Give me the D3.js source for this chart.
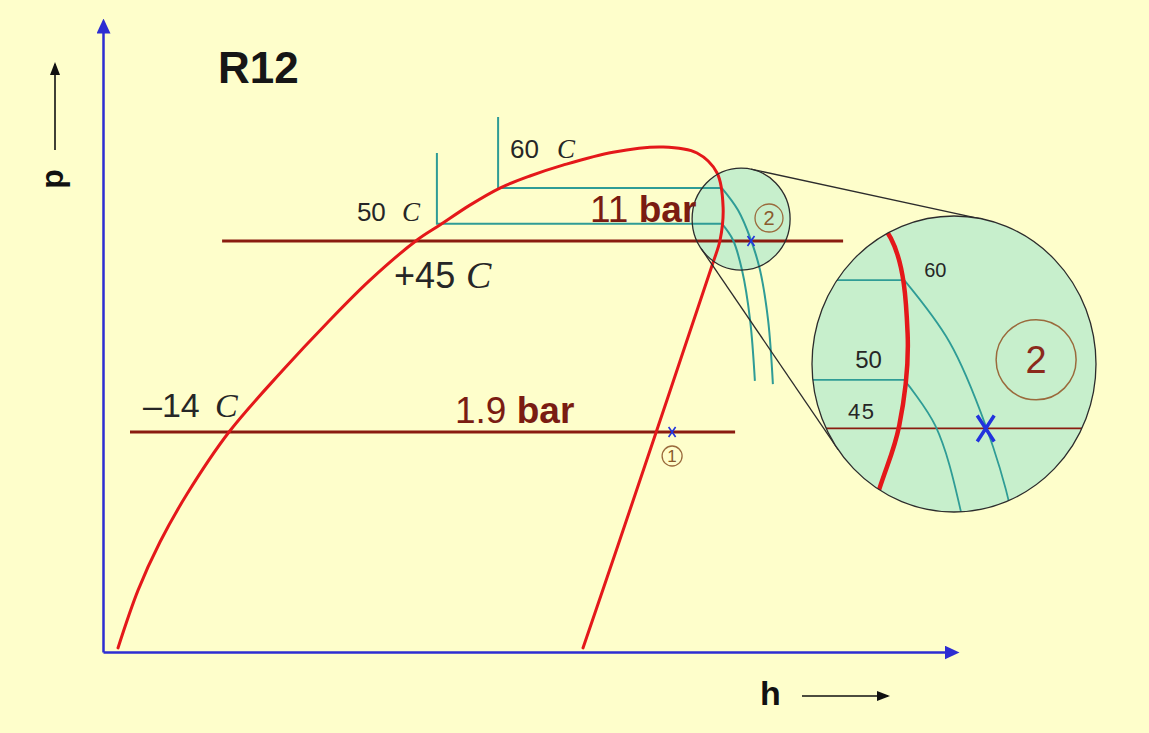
<!DOCTYPE html>
<html>
<head>
<meta charset="utf-8">
<script src="https://cdn.jsdelivr.net/npm/d3@7"></script>
<style>
  html, body { margin: 0; padding: 0; background: #FEFECB; }
  svg { display: block; }
</style>
</head>
<body>
<svg id="chart" width="1149" height="733"></svg>
<script>
// R12 refrigeration cycle on a schematic log p – h diagram
// h: specific enthalpy (kJ/kg, schematic), p: pressure (bar, log scale)

const title = "R12";

// Saturation dome: liquid line from bottom up to the critical region,
// then the vapour line back down.
const domeH = [155.0, 161.7, 169.0, 178.0, 192.0, 210.0, 224.7, 239.0, 254.7, 262.3, 272.3, 282.3, 292.3, 303.3, 320.0, 336.7,
               348.0, 354.7, 356.7, 355.7, 353.3, 345.7, 338.0, 330.7, 321.7, 310.0];
const domeP = [0.261, 0.444, 0.691, 1.074, 1.90, 3.36, 5.18, 7.68, 11.1, 12.74, 15.3, 17.9, 20.0, 22.1, 24.9, 26.1,
               24.7, 20.55, 15.03, 11.1, 8.99, 4.81, 2.55, 1.403, 0.672, 0.261];

// Evaporating / condensing pressures
const pressureLevels = [11, 1.9];
const pressureText = ["11", "1.9"];
const pressureFromH = [189.7, 159.0];
const pressureToH = [396.7, 360.7];
const satTempText = ["+45", "\u201314"];   // saturation temperature at each level
const satLiquidH = [254.7, 192.0];          // liquid line crossing of each level

// Isotherms 50 °C and 60 °C: liquid branch, two-phase plateau, superheated branch
const isoTemps = ["50", "60"];
const isoLiquidH = [261.3, 281.7];
const isoTopP = [24.7, 34.4];
const isoSatP = [12.9, 17.9];
const isoVapourH = [356.3, 356.3];
const iso50SuperH = [356.3, 360.0, 363.0, 365.7, 367.3];
const iso50SuperP = [12.9, 11.1, 8.42, 5.32, 3.04];
const iso60SuperH = [356.3, 361.7, 366.0, 369.0, 371.7, 373.3];
const iso60SuperP = [17.9, 14.6, 11.1, 8.42, 5.32, 2.95];

// Cycle state points: 1 = suction, 2 = discharge
const stateText = ["1", "2"];
const stateH = [339.7, 366.0];
const stateP = [1.9, 11];

// Magnifier lens centred near state 2
const lensH = 362.7, lensP = 13.46;
const magnification = 2.8;

// ---------------------------------------------------------------------------
const W = 1149, H = 733;
const svg = d3.select("#chart");
svg.append("rect").attr("width", W).attr("height", H).attr("fill", "#FEFECB");

const x = d3.scaleLinear().domain([150, 434]).range([103, 955]);
const y = d3.scaleLog().domain([0.2514, 82.4]).range([652, 22]);

const C = {
  axis: "#2d2dd2",
  dome: "#E4181A",
  pressure: "#8A1C10",
  iso: "#2F9C96",
  lensFill: "#C7EFCC",
  lensLine: "#2c2c2c",
  text: "#262626",
  pText: "#7A1C12",
  stateRing: "#9A6A3C",
  cross: "#2233DD"
};
const sans = "'Liberation Sans', Arial, sans-serif";
const serif = "'Liberation Serif', 'Times New Roman', serif";

const defs = svg.append("defs");
function arrowMarker(id, color, len, half, back) {
  defs.append("marker")
    .attr("id", id)
    .attr("markerUnits", "userSpaceOnUse")
    .attr("viewBox", `0 ${-half} ${len} ${2 * half}`)
    .attr("refX", len - back).attr("refY", 0)
    .attr("markerWidth", len).attr("markerHeight", 2 * half)
    .attr("orient", "auto")
    .append("path")
    .attr("d", `M0,${-half}L${len},0L0,${half}Z`)
    .attr("fill", color);
}
arrowMarker("axisArrow", C.axis, 15, 7, 4);
arrowMarker("labelArrow", "#111", 13, 5, 2);

// ---- axes (domain lines only, with arrow heads) ----
const xAxis = svg.append("g").attr("transform", `translate(0,${y.range()[0]})`)
  .call(d3.axisBottom(x).ticks(0).tickSizeOuter(0));
const yAxis = svg.append("g").attr("transform", `translate(${x.range()[0]},0)`)
  .call(d3.axisLeft(y).ticks(0).tickSizeOuter(0));
[xAxis, yAxis].forEach(g => {
  g.selectAll(".tick").remove();
  g.select(".domain")
    .attr("stroke", C.axis).attr("stroke-width", 2.5)
    .attr("marker-end", "url(#axisArrow)");
});

// axis names with their own arrows
svg.append("text").text("h")
  .attr("x", 760).attr("y", 705)
  .attr("font-family", sans).attr("font-weight", "bold").attr("font-size", 34).attr("fill", "#111");
svg.append("line").attr("x1", 802).attr("y1", 696).attr("x2", 888).attr("y2", 696)
  .attr("stroke", "#111").attr("stroke-width", 1.6).attr("marker-end", "url(#labelArrow)");
svg.append("text").text("p")
  .attr("transform", "translate(63,179) rotate(-90)")
  .attr("text-anchor", "middle")
  .attr("font-family", sans).attr("font-weight", "bold").attr("font-size", 32).attr("fill", "#111");
svg.append("line").attr("x1", 55).attr("y1", 150).attr("x2", 55).attr("y2", 64)
  .attr("stroke", "#111").attr("stroke-width", 1.6).attr("marker-end", "url(#labelArrow)");

svg.append("text").text(title)
  .attr("x", 218).attr("y", 83)
  .attr("font-family", sans).attr("font-weight", "bold").attr("font-size", 44).attr("fill", "#161616");

// ---- geometry helpers ----
const zip = (a, b) => a.map((v, i) => [v, b[i]]);
const smooth = (sx, sy) => d3.line().x(d => sx(d[0])).y(d => sy(d[1])).curve(d3.curveCatmullRom.alpha(0.5));
const straight = (sx, sy) => d3.line().x(d => sx(d[0])).y(d => sy(d[1]));

const domePts = zip(domeH, domeP);
const iso50Super = zip(iso50SuperH, iso50SuperP);
const iso60Super = zip(iso60SuperH, iso60SuperP);
const isoSuper = [iso50Super, iso60Super];

// lens geometry (small lens on the diagram, large lens as enlarged view)
const lens = { cx: x(lensH), cy: y(lensP), rx: 49, ry: 51 };
const big = { cx: 954, cy: 364, rx: 142, ry: 148, focusX: 958, focusY: 367 };
const xi = h => big.focusX + magnification * (x(h) - lens.cx);
const yi = p => big.focusY + magnification * (y(p) - lens.cy);

// small lens fill sits beneath the curves
svg.append("ellipse")
  .attr("cx", lens.cx).attr("cy", lens.cy).attr("rx", lens.rx).attr("ry", lens.ry)
  .attr("fill", C.lensFill);

// ---- drawing of the diagram content (reused for the enlarged view) ----
function drawContent(g, sx, sy, opt) {
  // pressure levels
  pressureLevels.forEach((p, i) => {
    g.append("line")
      .attr("x1", sx(opt.full ? 100 : pressureFromH[i])).attr("x2", sx(opt.full ? 500 : pressureToH[i]))
      .attr("y1", sy(p)).attr("y2", sy(p))
      .attr("stroke", C.pressure).attr("stroke-width", opt.pWidth);
  });
  // isotherms
  isoTemps.forEach((t, i) => {
    const plateau = opt.full
      ? [[isoLiquidH[i] - 40, isoSatP[i]], [isoVapourH[i], isoSatP[i]]]
      : [[isoLiquidH[i], isoTopP[i]], [isoLiquidH[i], isoSatP[i]], [isoVapourH[i], isoSatP[i]]];
    g.append("path").attr("d", straight(sx, sy)(plateau))
      .attr("fill", "none").attr("stroke", C.iso).attr("stroke-width", opt.isoWidth);
    g.append("path").attr("d", smooth(sx, sy)(isoSuper[i]))
      .attr("fill", "none").attr("stroke", C.iso).attr("stroke-width", opt.isoWidth);
  });
  // saturation dome
  g.append("path").attr("d", smooth(sx, sy)(domePts))
    .attr("fill", "none").attr("stroke", C.dome).attr("stroke-width", opt.domeWidth)
    .attr("stroke-linejoin", "round").attr("stroke-linecap", "round");
}

drawContent(svg.append("g"), x, y, { pWidth: 3, isoWidth: 2, domeWidth: 3 });

// small lens outline
svg.append("ellipse")
  .attr("cx", lens.cx).attr("cy", lens.cy).attr("rx", lens.rx).attr("ry", lens.ry)
  .attr("fill", "none").attr("stroke", C.lensLine).attr("stroke-width", 1.3);

// outer tangents joining both lenses (same aspect ratio -> solve as circles)
(function tangents() {
  const a = lens.ry / lens.rx;
  const c1 = [lens.cx, lens.cy / a], r1 = lens.rx;
  const c2 = [big.cx, big.cy / a], r2 = big.rx;
  const dx = c2[0] - c1[0], dy = c2[1] - c1[1];
  const d = Math.hypot(dx, dy), th = Math.atan2(dy, dx);
  const phi = Math.acos((r1 - r2) / d);
  [th - phi, th + phi].forEach(ang => {
    const n = [Math.cos(ang), Math.sin(ang)];
    svg.append("line")
      .attr("x1", c1[0] + r1 * n[0]).attr("y1", (c1[1] + r1 * n[1]) * a)
      .attr("x2", c2[0] + r2 * n[0]).attr("y2", (c2[1] + r2 * n[1]) * a)
      .attr("stroke", C.lensLine).attr("stroke-width", 1.3);
  });
})();

// ---- enlarged view ----
defs.append("clipPath").attr("id", "bigLensClip")
  .append("ellipse").attr("cx", big.cx).attr("cy", big.cy).attr("rx", big.rx).attr("ry", big.ry);
svg.append("ellipse")
  .attr("cx", big.cx).attr("cy", big.cy).attr("rx", big.rx).attr("ry", big.ry)
  .attr("fill", C.lensFill);
const inset = svg.append("g").attr("clip-path", "url(#bigLensClip)");
drawContent(inset, xi, yi, { pWidth: 1.8, isoWidth: 1.8, domeWidth: 4.5, full: true });

// enlarged labels
const knee60 = [xi(isoVapourH[1]), yi(isoSatP[1])];
const knee50 = [xi(isoVapourH[0]), yi(isoSatP[0])];
inset.append("text").text(isoTemps[1])
  .attr("x", knee60[0] + 20).attr("y", knee60[1] - 3)
  .attr("font-family", sans).attr("font-size", 20).attr("fill", C.text);
inset.append("text").text(isoTemps[0])
  .attr("x", knee50[0] - 49).attr("y", knee50[1] - 12)
  .attr("font-family", sans).attr("font-size", 24).attr("fill", C.text);
inset.append("text").text("45")
  .attr("x", big.cx - 106).attr("y", yi(pressureLevels[0]) - 9)
  .attr("font-family", sans).attr("font-size", 22).attr("letter-spacing", 1.5).attr("fill", C.text);

function cross(g, cx, cy, hw, hh, w) {
  g.append("path")
    .attr("d", `M${cx - hw},${cy - hh}L${cx + hw},${cy + hh}M${cx + hw},${cy - hh}L${cx - hw},${cy + hh}`)
    .attr("fill", "none").attr("stroke", C.cross).attr("stroke-width", w);
}
cross(inset, xi(stateH[1]), yi(stateP[1]), 8.5, 13, 3.5);

// state 2 ring in the enlarged view
const ring2 = [xi(stateH[1]) + magnification * 18, yi(stateP[1]) - magnification * 24.5];
inset.append("circle").attr("cx", ring2[0]).attr("cy", ring2[1]).attr("r", 40)
  .attr("fill", "none").attr("stroke", C.stateRing).attr("stroke-width", 1.5);
inset.append("text").text(stateText[1])
  .attr("x", ring2[0]).attr("y", ring2[1] + 13)
  .attr("text-anchor", "middle")
  .attr("font-family", sans).attr("font-size", 38).attr("fill", "#8B2A1C");

svg.append("ellipse")
  .attr("cx", big.cx).attr("cy", big.cy).attr("rx", big.rx).attr("ry", big.ry)
  .attr("fill", "none").attr("stroke", C.lensLine).attr("stroke-width", 1.3);

// ---- state points on the diagram ----
stateText.forEach((s, i) => {
  const px = x(stateH[i]), py = y(stateP[i]);
  cross(svg, px, py, 3.5, 5, 1.6);
  const off = i === 0 ? [0, 24] : [18, -23];
  const r = i === 0 ? 10 : 14;
  svg.append("circle").attr("cx", px + off[0]).attr("cy", py + off[1]).attr("r", r)
    .attr("fill", "none").attr("stroke", C.stateRing).attr("stroke-width", 1.3);
  svg.append("text").text(s)
    .attr("x", px + off[0]).attr("y", py + off[1] + (i === 0 ? 6 : 7))
    .attr("text-anchor", "middle")
    .attr("font-family", sans).attr("font-size", i === 0 ? 17 : 20).attr("fill", "#8A5A2C");
});

// ---- labels on the diagram ----
function tempLabel(num, numX, baseY, cX, numSize, cSize) {
  svg.append("text").text(num)
    .attr("x", numX).attr("y", baseY)
    .attr("font-family", sans).attr("font-size", numSize).attr("fill", C.text);
  svg.append("text").text("C")
    .attr("x", cX).attr("y", baseY)
    .attr("font-family", serif).attr("font-style", "italic").attr("font-size", cSize).attr("fill", C.text);
}
// isotherm temperatures at their liquid branches
const k60 = [x(isoLiquidH[1]), y(isoSatP[1])];
const k50 = [x(isoLiquidH[0]), y(isoSatP[0])];
tempLabel(isoTemps[1], k60[0] + 12, k60[1] - 30, k60[0] + 59, 26, 27);
tempLabel(isoTemps[0], k50[0] - 80, k50[1] - 3, k50[0] - 35, 26, 27);

// saturation temperatures where the pressure levels cross the liquid line
tempLabel(satTempText[0], x(satLiquidH[0]) - 23, y(pressureLevels[0]) + 47, x(satLiquidH[0]) + 49, 36, 38);
tempLabel(satTempText[1], x(satLiquidH[1]) - 86, y(pressureLevels[1]) - 15, x(satLiquidH[1]) - 14, 34, 34);

// pressure values
const pLabelX = [590, 455];
const pLabelDy = [-19, -9];
pressureLevels.forEach((p, i) => {
  const t = svg.append("text")
    .attr("x", pLabelX[i]).attr("y", y(p) + pLabelDy[i])
    .attr("font-family", sans).attr("font-size", 37).attr("fill", C.pText);
  t.append("tspan").text(pressureText[i] + " ");
  t.append("tspan").text("bar").attr("font-weight", "bold");
});
</script>
</body>
</html>
